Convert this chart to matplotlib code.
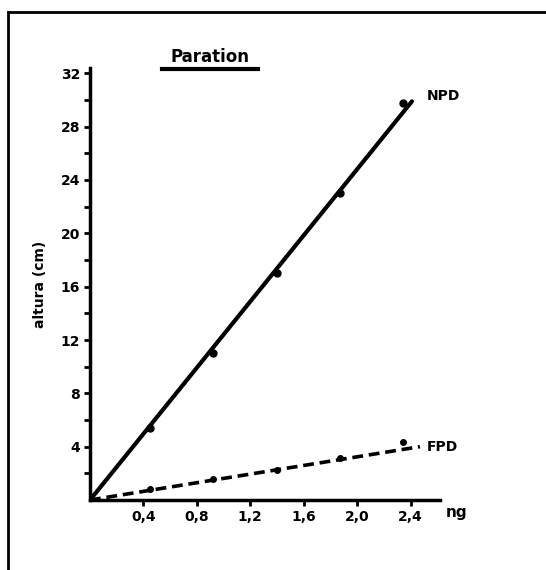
import matplotlib
matplotlib.use('Agg')
import matplotlib.pyplot as plt
from matplotlib.lines import Line2D
import numpy as np

# amount injected (ng) and peak height (cm)
ng = [0.45, 0.92, 1.40, 1.87, 2.34]
npd_altura = [5.4, 11.0, 17.0, 23.0, 29.8]
fpd_altura = [0.83, 1.58, 2.25, 3.15, 4.35]

# calibration lines drawn from the origin
npd_fit_x = [0.0, 2.41]
npd_fit_y = [0.0, 29.9]
fpd_fit_x = [0.0, 2.47]
fpd_fit_y = [0.0, 4.0]

x_ticks = [0.4, 0.8, 1.2, 1.6, 2.0, 2.4]
x_ticklabels = ['0,4', '0,8', '1,2', '1,6', '2,0', '2,4']
y_ticks = [4, 8, 12, 16, 20, 24, 28, 32]

W, H = 546, 570
fig = plt.figure(figsize=(W / 100, H / 100), dpi=100)
fig.patch.set_facecolor('white')

# outer frame (top and left edges)
fig.add_artist(Line2D([8 / W, 1.0], [1 - 12 / H, 1 - 12 / H], color='black', lw=2))
fig.add_artist(Line2D([8 / W, 8 / W], [0.0, 1 - 12 / H], color='black', lw=2))

ax = fig.add_axes([90 / W, 70 / H, 350 / W, 432 / H])
ax.set_xlim(0, 2.62)
ax.set_ylim(0, 32.4)

ax.plot(npd_fit_x, npd_fit_y, color='black', lw=3, solid_capstyle='round')
ax.plot(fpd_fit_x, fpd_fit_y, color='black', lw=2.6, linestyle=(0, (3, 1.6)))
ax.plot(ng, npd_altura, 'o', color='black', ms=5)
ax.plot(ng, fpd_altura, 'o', color='black', ms=4)

for side in ['top', 'right']:
    ax.spines[side].set_visible(False)
ax.spines['left'].set_linewidth(2.5)
ax.spines['bottom'].set_linewidth(2.5)

ax.set_xticks(x_ticks)
ax.set_xticklabels(x_ticklabels, fontsize=10, fontweight='bold')
ax.set_yticks(y_ticks)
ax.set_yticklabels([str(v) for v in y_ticks], fontsize=10, fontweight='bold')
ax.set_yticks(np.arange(2, 32, 4), minor=True)
ax.tick_params(axis='both', which='both', length=4, width=2, direction='out', pad=3)

ax.set_ylabel('altura (cm)', fontsize=10, fontweight='bold', labelpad=10)

ax.text(2.66, -0.4, 'ng', fontsize=11, fontweight='bold', ha='left', va='top', clip_on=False)
ax.text(2.52, 30.3, 'NPD', fontsize=10, fontweight='bold', ha='left', va='center')
ax.text(2.52, 4.0, 'FPD', fontsize=10, fontweight='bold', ha='left', va='center')

# underlined title
fig.text(210 / W, 1 - 57 / H, 'Paration', fontsize=12, fontweight='bold', ha='center', va='center')
fig.add_artist(Line2D([162 / W, 258 / W], [1 - 69 / H, 1 - 69 / H], color='black', lw=3))

fig.savefig('out.png', dpi=100, facecolor='white')
